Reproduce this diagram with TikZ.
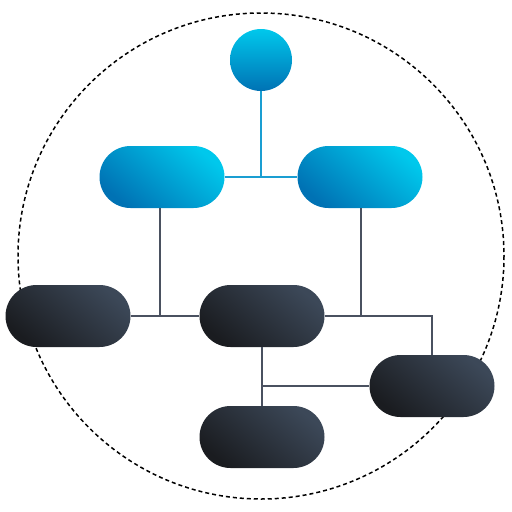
\documentclass[tikz,border=0pt]{standalone}
\usepackage{tikz}
\usetikzlibrary{positioning, calc}
\definecolor{cyanlight}{RGB}{0,200,236}
\definecolor{bluedark}{RGB}{0,114,180}
\definecolor{slatelight}{RGB}{60,72,88}
\definecolor{slatedark}{RGB}{26,28,32}
\definecolor{linkblue}{RGB}{26,158,210}
\definecolor{linkgray}{RGB}{74,81,96}
\tikzset{
	unit/.style={
		rectangle,
		rounded corners=31pt,
		minimum width=125pt,
		minimum height=62pt,
		inner sep=0pt
	},
	lead/.style={unit, top color=cyanlight, bottom color=bluedark, shading angle=-40},
	member/.style={unit, top color=slatelight, bottom color=slatedark, shading angle=-40}
}

\begin{document}
\begin{tikzpicture}[x=1pt, y=-1pt]
	\tikzset{link/.style={line width=2pt, linkgray}}
	\useasboundingbox (0,0) rectangle (512,512);
	
	\draw[line width=1.5pt, dash pattern=on 4pt off 3pt] (261,256) circle (243);
	
	\node(root) at (261,60) [circle, minimum size=62pt, inner sep=0pt, top color=cyanlight, bottom color=bluedark] {};
	
	\node(lead_l) at (162,177) [lead] {};
	\node(lead_r) at (360,177) [lead] {};
	
	\node(team_l) at (68,316) [member] {};
	\node(team_m) at (262,316) [member] {};
	\node(team_r) at (432,386) [member] {};
	\node(team_b) at (262,437) [member] {};
	
	\draw[link, linkblue](root) -- (root |- lead_l.east);
	\draw[link, linkblue](lead_l) -- (lead_r);
	
	\draw[link](lead_l.south -| 160,0) -- (160,315);
	\draw[link](team_l) -- (team_m);
	\draw[link](lead_r.south -| 361,0) -- (361,315);
	\draw[link](team_m.east) -- (team_r.north |- team_m.east) -- (team_r.north);
	\draw[link](team_m) -- (team_b);
	\draw[link](team_m.south |- team_r.west) -- (team_r.west);
	
\end{tikzpicture}
\end{document}
